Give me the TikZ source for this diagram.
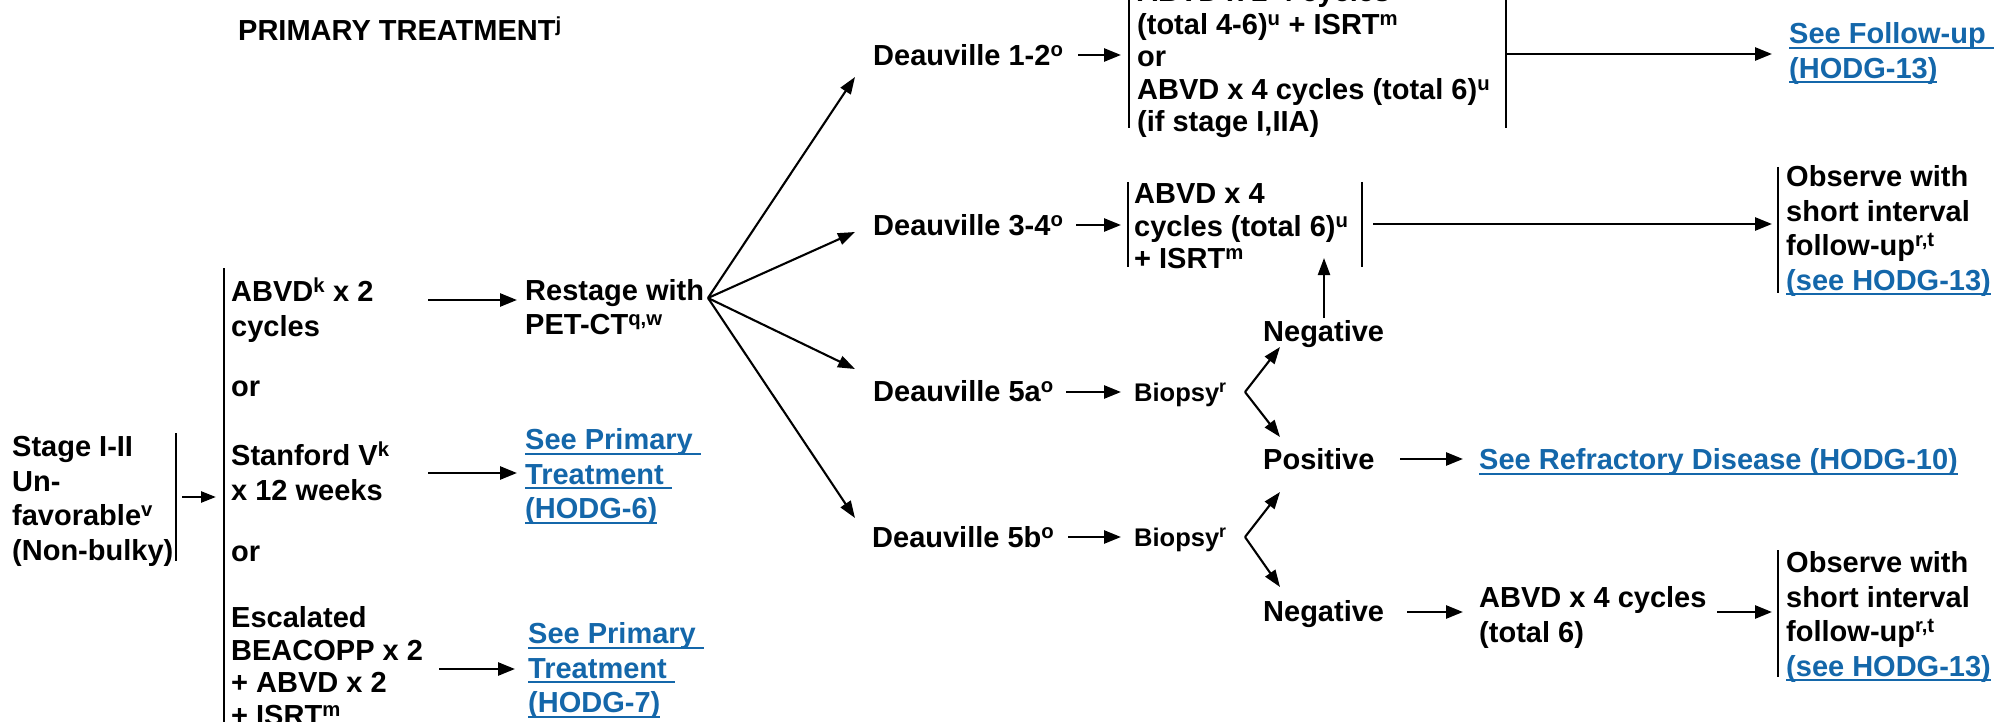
\documentclass[tikz,border=0pt]{standalone}
\usepackage{fontspec}
\setmainfont{Liberation Sans}
\usetikzlibrary{arrows.meta}
\definecolor{lnkblue}{RGB}{20,103,170}
\newlength\ulw
\newcommand\lnk[1]{\settowidth\ulw{#1}\rlap{\textcolor{lnkblue}{\rule[-5pt]{\ulw}{2pt}}}\textcolor{lnkblue}{#1}}
\newcommand\fA{\fontsize{29}{34.5}\selectfont\bfseries}
\newcommand\fB{\fontsize{29}{32.5}\selectfont\bfseries}
\newcommand\fC{\fontsize{25.5}{30}\selectfont\bfseries}
\newcommand\st{\rule{0pt}{30pt}}
\newcommand\su[1]{\textsuperscript{#1}}
\begin{document}
\begin{tikzpicture}[x=1pt,y=-1pt,
  txt/.style={anchor=north west,inner sep=0pt,align=left,font=\fA},
  tighttxt/.style={txt,font=\fB},
  smalltxt/.style={txt,font=\fC},
  arr/.style={line width=2.6pt,-{Triangle[length=17pt,width=13pt]}},
  farr/.style={line width=2.1pt,-{Triangle[length=17pt,width=12pt]}},
  barline/.style={line width=2.2pt}]
\useasboundingbox (0,0) rectangle (1997,722);
\clip (0,0) rectangle (1997,722);
\fill[white] (0,0) rectangle (1997,722);

% ---------- texts ----------
\node[txt] (title) at (238,10.4) {\st PRIMARY TREATMENT\su{j}};
\node[txt] (stage) at (12,426.4) {\st Stage I-II\\Un-\\favorable\su{v}\\(Non-bulky)};
\node[txt] (abvd2) at (231,271.4) {\st ABVD\su{k} x 2\\cycles};
\node[txt] (or1) at (231,366.4) {\st or};
\node[txt] (stan) at (231,435.4) {\st Stanford V\su{k}\\x 12 weeks};
\node[txt] (or2) at (231,531.4) {\st or};
\node[tighttxt] (esc) at (231,597.4) {\st Escalated\\BEACOPP x 2\\+ ABVD x 2\\+ ISRT\su{m}};
\node[txt] (restage) at (525,270) {\st Restage with\\PET-CT\su{q,w}};
\node[txt] (see6) at (525,419.4) {\st\lnk{See Primary\ }\\\lnk{Treatment\ }\\\lnk{(HODG-6)}};
\node[txt] (see7) at (528,613.4) {\st\lnk{See Primary\ }\\\lnk{Treatment\ }\\\lnk{(HODG-7)}};

\node[txt] (d12) at (873,35.4) {\st Deauville 1-2\su{o}};
\node[txt] (d34) at (873,205.4) {\st Deauville 3-4\su{o}};
\node[txt] (d5a) at (873,371.4) {\st Deauville 5a\su{o}};
\node[txt] (d5b) at (872,517.4) {\st Deauville 5b\su{o}};

\node[tighttxt] (box1) at (1137,-28.6) {\st ABVD x 2-4 cycles\\(total 4-6)\su{u} + ISRT\su{m}\\or\\ABVD x 4 cycles (total 6)\su{u}\\(if stage I,IIA)};
\node[tighttxt] (box2) at (1134,173.4) {\st ABVD x 4\\cycles (total 6)\su{u}\\+ ISRT\su{m}};
\node[smalltxt] (bioa) at (1134,371.1) {\st Biopsy\su{r}};
\node[smalltxt] (biob) at (1134,516.1) {\st Biopsy\su{r}};
\node[txt] (neg1) at (1263,311.4) {\st Negative};
\node[txt] (pos) at (1263,439.4) {\st Positive};
\node[txt] (neg2) at (1263,591.4) {\st Negative};
\node[txt] (refr) at (1479,439.4) {\st\lnk{See Refractory Disease (HODG-10)}};
\node[txt] (abvd4) at (1479,577.4) {\st ABVD x 4 cycles\\(total 6)};

\node[txt] (fu) at (1789,13.4) {\st\lnk{See Follow-up\ }\\\lnk{(HODG-13)}};
\node[txt] (obs1) at (1786,156.4) {\st Observe with\\short interval\\follow-up\su{r,t}\\\lnk{(see HODG-13)}};
\node[txt] (obs2) at (1786,542.4) {\st Observe with\\short interval\\follow-up\su{r,t}\\\lnk{(see HODG-13)}};

% ---------- brackets ----------
\draw[barline] (176,433) -- (176,561);
\draw[barline] (224,268) -- (224,730);
\draw[barline] (1129,-5) -- (1129,128);
\draw[barline] (1506,-5) -- (1506,128);
\draw[barline] (1128,182) -- (1128,267);
\draw[barline] (1362,182) -- (1362,267);
\draw[barline] (1778,167) -- (1778,293);
\draw[barline] (1778,550) -- (1778,677);

% ---------- connector end points ----------
\coordinate (stA) at (182,497);   \coordinate (stB) at (216,497);
\coordinate (abA) at (428,300);   \coordinate (abB) at (517,300);
\coordinate (snA) at (428,473);   \coordinate (snB) at (517,473);
\coordinate (esA) at (439,669);   \coordinate (esB) at (515,669);
\coordinate (fan) at (708,298);
\coordinate (t1) at (855,77);
\coordinate (t2) at (855,232);
\coordinate (t3) at (855,369);
\coordinate (t4) at (855,518);
\coordinate (d12A) at (1078,55);  \coordinate (d12B) at (1121,55);
\coordinate (d34A) at (1076,225); \coordinate (d34B) at (1121,225);
\coordinate (d5aA) at (1066,392); \coordinate (d5aB) at (1121,392);
\coordinate (d5bA) at (1068,537); \coordinate (d5bB) at (1121,537);
\coordinate (b1A) at (1506,54);   \coordinate (b1B) at (1772,54);
\coordinate (b2A) at (1373,224);  \coordinate (b2B) at (1772,224);
\coordinate (upA) at (1324,318);  \coordinate (upB) at (1324,258);
\coordinate (va) at (1245,392);
\coordinate (vaU) at (1280,347);  \coordinate (vaD) at (1280,437);
\coordinate (vb) at (1245,537);
\coordinate (vbU) at (1280,492);  \coordinate (vbD) at (1280,587);
\coordinate (psA) at (1400,459);  \coordinate (psB) at (1463,459);
\coordinate (ngA) at (1407,612);  \coordinate (ngB) at (1463,612);
\coordinate (a4A) at (1717,612);  \coordinate (a4B) at (1772,612);

% ---------- connectors ----------
\draw[arr,-{Triangle[length=15pt,width=11pt]}] (stA) -- (stB);
\draw[arr] (abA) -- (abB);
\draw[arr] (snA) -- (snB);
\draw[arr] (esA) -- (esB);
\foreach \t in {t1,t2,t3,t4} \draw[farr] (fan) -- (\t);
\draw[arr] (d12A) -- (d12B);
\draw[arr] (d34A) -- (d34B);
\draw[arr] (d5aA) -- (d5aB);
\draw[arr] (d5bA) -- (d5bB);
\draw[arr] (b1A) -- (b1B);
\draw[arr] (b2A) -- (b2B);
\draw[farr] (upA) -- (upB);
\draw[farr] (va) -- (vaU);
\draw[farr] (va) -- (vaD);
\draw[farr] (vb) -- (vbU);
\draw[farr] (vb) -- (vbD);
\draw[arr] (psA) -- (psB);
\draw[arr] (ngA) -- (ngB);
\draw[arr] (a4A) -- (a4B);
\end{tikzpicture}
\end{document}
